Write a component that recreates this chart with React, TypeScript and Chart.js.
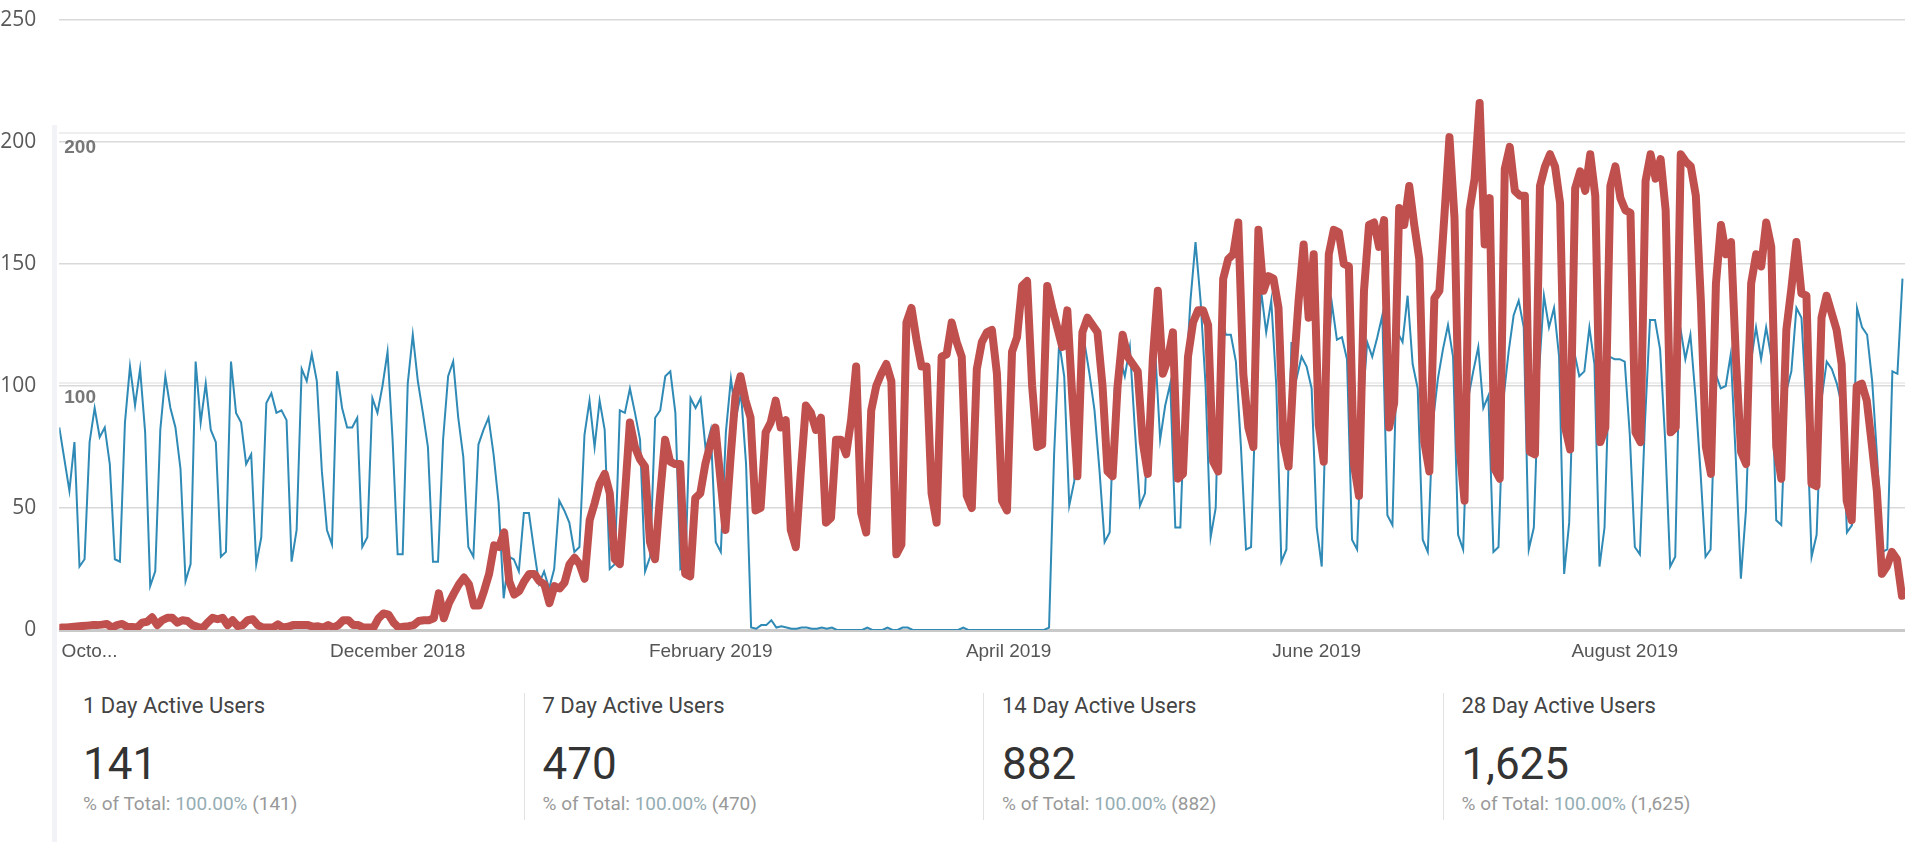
import React, { useEffect, useRef } from "react";
import { Chart, registerables } from "chart.js";

Chart.register(...registerables);

// Daily active users from the Google Analytics screenshot (blue), one value per day from 25 Sep 2018
const gaDailyUsers: number[] = [
  83, 70, 57, 77, 26, 29, 77, 91, 79, 83,
  68, 29, 28, 85, 108, 92, 107, 81, 18, 24,
  82, 104, 91, 83, 66, 20, 27, 110, 85, 101,
  82, 77, 30, 32, 110, 89, 85, 68, 72, 27,
  38, 93, 97, 89, 90, 86, 28, 41, 107, 102,
  113, 102, 65, 41, 35, 106, 91, 83, 83, 87,
  34, 38, 95, 89, 100, 114, 78, 31, 31, 101,
  121, 102, 89, 75, 28, 28, 78, 104, 110, 87,
  71, 34, 30, 76, 82, 87, 72, 52, 13, 30,
  29, 24, 48, 48, 33, 19, 24, 17, 25, 53,
  49, 44, 32, 34, 80, 94, 75, 94, 82, 25,
  27, 90, 89, 99, 89, 78, 24, 30, 87, 90,
  104, 106, 89, 25, 27, 95, 91, 95, 74, 82,
  36, 32, 81, 103, 87, 97, 68, 1, 0.5, 2,
  2, 4, 1, 1.5, 1, 0.5, 0.5, 1, 1, 0.5,
  0.5, 1, 0.5, 1, 0, 0, 0, 0, 0, 0,
  1, 0, 0, 0, 1, 0, 0, 1, 1, 0,
  0, 0, 0, 0, 0, 0, 0, 0, 0, 1,
  0, 0, 0, 0, 0, 0, 0, 0, 0, 0,
  0, 0, 0, 0, 0, 0, 1, 72, 118, 104,
  51, 61, 109, 118, 105, 90, 65, 36, 40, 99,
  112, 104, 116, 82, 51, 56, 104, 115, 78, 92,
  101, 42, 42, 100, 135, 159, 135, 100, 38, 50,
  129, 121, 121, 110, 75, 33, 34, 100, 139, 122,
  135, 100, 28, 33, 118, 103, 112, 108, 99, 42,
  26, 105, 134, 119, 120, 111, 37, 33, 90, 118,
  112, 120, 129, 47, 43, 122, 118, 137, 109, 99,
  37, 32, 85, 103, 115, 125, 112, 39, 33, 95,
  106, 116, 91, 96, 32, 34, 95, 114, 129, 135,
  124, 33, 42, 105, 137, 124, 132, 112, 23, 44,
  114, 104, 106, 124, 109, 26, 42, 112, 111, 111,
  110, 80, 34, 31, 85, 127, 127, 115, 78, 26,
  30, 124, 111, 121, 96, 65, 30, 33, 105, 99,
  100, 113, 70, 21, 49, 110, 124, 111, 124, 112,
  45, 43, 98, 106, 132, 128, 90, 30, 39, 95,
  110, 107, 101, 92, 40, 43, 132, 124, 121, 102,
  70, 32, 33, 106, 105, 144,
];

// Overlaid red series (a second daily series pasted on top of the screenshot)
const overlayDailyUsers: number[] = [
  1, 1, 1.2, 1.4, 1.6, 1.8, 2, 2, 2.2, 2.5,
  1, 2, 2.5, 1.3, 1.2, 1, 3, 3.4, 5.2, 2,
  4, 5, 5, 3, 4, 3.7, 2, 1.3, 0.7, 3,
  5, 4.4, 5, 2, 4, 1.6, 2, 4, 4.4, 2,
  1, 1, 1, 2.3, 1, 1.3, 2, 2, 2, 2,
  1.3, 1.5, 1, 2, 1, 2, 4, 4, 2, 2,
  1, 1, 1, 4.8, 6.8, 6.3, 3, 1, 1.3, 1.6,
  2, 3.7, 4, 4, 4.8, 15, 4.8, 11, 15, 18.7,
  21.5, 18.7, 10, 10, 16, 23, 34.7, 34, 40, 20,
  14.5, 16, 20, 23, 23, 20, 18.7, 11, 18, 17,
  19.4, 27, 29.6, 27, 21,
  45, 52, 60, 64, 56, 29, 27,
  55, 85, 75, 70, 67, 36, 29,
  55, 78, 69, 68, 68, 23, 22,
  54, 56, 68, 76, 83, 62, 41,
  70, 96, 104, 94, 87, 49, 50,
  81, 85, 94, 83, 86, 41, 34,
  65, 92, 89, 82, 87, 44, 46,
  78, 78, 72, 86, 108, 48, 40,
  90, 100, 105, 109, 102, 31, 35,
  126, 132, 119, 108, 108, 56, 44,
  112, 113, 126, 118, 112, 55, 50,
  107, 118, 122, 123, 105, 53, 49,
  114, 120, 141, 143, 100, 75, 76,
  141, 132, 124, 116, 131, 95, 63,
  122, 128, 125, 122, 100, 65, 63,
  100, 121, 112, 109, 106, 77, 64,
  111, 139, 105, 111, 122, 62, 64,
  112, 126, 131, 131, 125, 69, 65,
  144, 152, 154, 167, 105, 83, 75,
  164, 139, 145, 144, 132, 77, 67,
  106, 135, 158, 128, 154, 84, 69,
  154, 164, 163, 150, 149, 68, 55,
  139, 166, 167, 157, 168, 83, 93,
  173, 166, 182, 166, 152, 77, 65,
  136, 139, 170, 202, 169, 75, 53,
  172, 185, 216, 158, 177, 66, 62,
  189, 198, 180, 178, 178, 73, 72,
  182, 190, 195, 190, 175, 83, 74,
  181, 188, 180, 195, 178, 77, 83,
  182, 190, 177, 172, 171, 81, 77,
  184, 195, 185, 193, 172, 81, 83,
  195, 192, 190, 178, 135, 75, 64,
  142, 166, 154, 159, 110, 73, 68,
  142, 154, 149, 167, 157, 75, 62,
  123, 140, 159, 138, 137, 60, 59,
  128, 137, 130, 123, 109, 53, 45,
  100, 101, 94, 76, 57, 23, 26,
  32, 29, 14,
];

// Month ticks (day index from 25 Sep 2018) and their labels
const monthTickDays: number[] = [6, 67, 129, 188, 249, 310];
const monthTickLabels: string[] = ["Octo...", "December 2018", "February 2019", "April 2019", "June 2019", "August 2019"];

const outerAxisTicks: number[] = [0, 50, 100, 150, 200, 250];
const innerAxisTicks: number[] = [100, 200];

const statTitles: string[] = ["1 Day Active Users", "7 Day Active Users", "14 Day Active Users", "28 Day Active Users"];
const statValues: string[] = ["141", "470", "882", "1,625"];
const statShares: string[] = ["100.00%", "100.00%", "100.00%", "100.00%"];

export default function App() {
  const canvasRef = useRef<HTMLCanvasElement | null>(null);

  useEffect(() => {
    if (!canvasRef.current) return;
    const chart = new Chart(canvasRef.current, {
      type: "line",
      data: {
        datasets: [
          {
            label: "Overlay",
            data: overlayDailyUsers.map((v, i) => ({ x: i, y: v })),
            xAxisID: "xRed",
            yAxisID: "y",
            borderColor: "#c0504d",
            borderWidth: 8,
            pointRadius: 0,
            tension: 0,
            borderJoinStyle: "round",
            borderCapStyle: "round",
            fill: false,
          },
          {
            label: "1 Day Active Users",
            data: gaDailyUsers.map((v, i) => ({ x: i, y: v })),
            xAxisID: "x",
            yAxisID: "y",
            borderColor: "#2f8ab6",
            borderWidth: 2,
            pointRadius: 0,
            tension: 0,
            fill: false,
          },
        ],
      },
      options: {
        animation: false,
        responsive: true,
        maintainAspectRatio: false,
        layout: { padding: { top: 20, right: 0, left: 0, bottom: 17.2 } },
        plugins: { legend: { display: false }, tooltip: { enabled: false } },
        scales: {
          x: {
            type: "linear",
            position: "bottom",
            min: 0,
            max: 365.5,
            afterBuildTicks: (s: any) => {
              s.ticks = monthTickDays.map((v) => ({ value: v }));
            },
            ticks: {
              autoSkip: false,
              maxRotation: 0,
              padding: 10,
              color: "#555555",
              font: { family: "'Liberation Sans', Arial, sans-serif", size: 19 },
              callback: (_v: any, i: number) => monthTickLabels[i],
            },
            grid: { display: false, drawTicks: false },
            border: { display: false },
          },
          xRed: {
            type: "linear",
            position: "bottom",
            display: false,
            min: -0.48,
            max: 366.6,
          },
          y: {
            type: "linear",
            position: "left",
            weight: 1,
            min: 0,
            max: 250,
            afterBuildTicks: (s: any) => {
              s.ticks = outerAxisTicks.map((v) => ({ value: v }));
            },
            afterFit: (s: any) => {
              s.width = 59.3;
              s.paddingTop = 0;
              s.paddingBottom = 0;
            },
            ticks: {
              padding: 23,
              color: "#595959",
              font: { family: "'Open Sans', sans-serif", size: 21 },
            },
            grid: {
              drawTicks: false,
              color: (ctx: any) => (ctx.tick && ctx.tick.value === 0 ? "#c9c9c9" : "#d9d9d9"),
              lineWidth: (ctx: any) => (ctx.tick && ctx.tick.value === 0 ? 3 : 1.5),
            },
            border: { display: false },
          },
          y2: {
            type: "linear",
            position: "left",
            weight: 0,
            min: 0.84,
            max: 245.4,
            afterBuildTicks: (s: any) => {
              s.ticks = innerAxisTicks.map((v) => ({ value: v }));
            },
            afterFit: (s: any) => {
              s.width = 0;
              s.paddingTop = 0;
              s.paddingBottom = 0;
            },
            ticks: {
              mirror: true,
              padding: 5,
              labelOffset: 15,
              color: "#777777",
              font: { family: "'Liberation Sans', Arial, sans-serif", size: 19, weight: "bold" },
            },
            grid: { drawTicks: false, color: "#eeeeee", lineWidth: 2 },
            border: { display: false },
          },
        },
      } as any,
    });
    return () => chart.destroy();
  }, []);

  return (
    <div
      style={{
        position: "absolute",
        left: 0,
        top: 0,
        width: 1905,
        height: 842,
        background: "#ffffff",
        overflow: "hidden",
        fontFamily: "Roboto, Arial, sans-serif",
      }}
    >
      <div style={{ position: "absolute", left: 52, top: 125, width: 5, height: 717, background: "#f1f3f6" }} />
      <div style={{ position: "absolute", left: 0, top: 0, width: 1905, height: 690 }}>
        <canvas ref={canvasRef} />
      </div>
      <div style={{ position: "absolute", left: 64, top: 693, display: "flex" }}>
        {statTitles.map((t, i) => (
          <div
            key={t}
            style={{
              position: "relative",
              width: 459.5,
              height: 127,
              boxSizing: "border-box",
              borderLeft: i ? "1px solid #e2e2e2" : "1px solid transparent",
            }}
          >
            <div style={{ position: "absolute", left: 18, top: 0, fontSize: 22, lineHeight: "26px", color: "#444444", whiteSpace: "nowrap" }}>
              {t}
            </div>
            <div style={{ position: "absolute", left: 18, top: 45, fontSize: 44, lineHeight: "52px", color: "#333333", whiteSpace: "nowrap" }}>
              {statValues[i]}
            </div>
            <div style={{ position: "absolute", left: 18, top: 100, fontSize: 19, lineHeight: "22px", color: "#999999", whiteSpace: "nowrap" }}>
              % of Total: <span style={{ color: "#95adb3" }}>{statShares[i]}</span> ({statValues[i]})
            </div>
          </div>
        ))}
      </div>
    </div>
  );
}
